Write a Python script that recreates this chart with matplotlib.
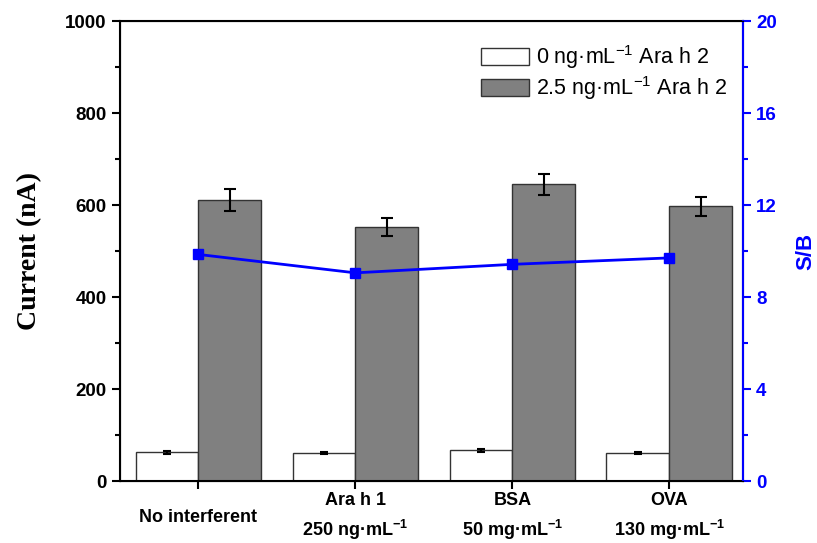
import matplotlib
matplotlib.use("Agg")
import matplotlib.pyplot as plt
from matplotlib.ticker import MultipleLocator
import numpy as np

categories = ["No interferent", "Ara h 1\n250 ng·mL$^{\\mathregular{-1}}$",
              "BSA\n50 mg·mL$^{\\mathregular{-1}}$", "OVA\n130 mg·mL$^{\\mathregular{-1}}$"]
blank_current = [62, 60, 67, 61]
blank_err = [3, 2, 3, 3]
sample_current = [610, 552, 645, 597]
sample_err = [24, 20, 23, 20]
signal_to_blank = [9.85, 9.05, 9.42, 9.70]
legend_labels = ["0 ng·mL$^{\\mathregular{-1}}$ Ara h 2", "2.5 ng·mL$^{\\mathregular{-1}}$ Ara h 2"]

plt.rcParams['font.family'] = ['Liberation Sans', 'DejaVu Sans']
plt.rcParams['mathtext.default'] = 'regular'

fig = plt.figure(figsize=(8.17, 5.43), dpi=100)
ax = fig.add_axes([120/817, 62/543, 623/817, 460/543])

x = np.arange(1, len(categories) + 1)
w = 0.4
ax.bar(x - w/2, blank_current, width=w, color='white', edgecolor='#333333', linewidth=1,
       yerr=blank_err, error_kw=dict(ecolor='black', elinewidth=1.5, capsize=3, capthick=1.5),
       label=legend_labels[0], zorder=2)
ax.bar(x + w/2, sample_current, width=w, color='#808080', edgecolor='#333333', linewidth=1,
       yerr=sample_err, error_kw=dict(ecolor='black', elinewidth=1.5, capsize=4, capthick=1.5),
       label=legend_labels[1], zorder=2)

ax.set_xlim(0.5, 4.47)
ax.set_ylim(0, 1000)
ax.yaxis.set_major_locator(MultipleLocator(200))
ax.yaxis.set_minor_locator(MultipleLocator(100))
ax.set_xticks(x)
ax.set_xticklabels(categories, fontweight='bold', fontsize=13, va='center', linespacing=1.45)
ax.tick_params(axis='x', direction='out', length=6, width=1.5, pad=20)
ax.tick_params(axis='y', which='major', direction='out', length=6, width=1.5, labelsize=13.5)
ax.tick_params(axis='y', which='minor', direction='out', length=3.5, width=1.5)
for lab in ax.get_yticklabels():
    lab.set_fontweight('bold')
ax.set_ylabel("Current (nA)", fontsize=20, fontweight='bold',
              fontfamily=['Liberation Serif', 'DejaVu Serif'], labelpad=17)
for sp in ax.spines.values():
    sp.set_linewidth(1.5)

ax2 = ax.twinx()
ax2.plot(x, signal_to_blank, color='#0000ff', marker='s', markersize=7, linewidth=2, zorder=3)
ax2.set_ylim(0, 20)
ax2.yaxis.set_major_locator(MultipleLocator(4))
ax2.yaxis.set_minor_locator(MultipleLocator(2))
ax2.tick_params(axis='y', which='major', direction='out', length=6, width=1.5,
                colors='#0000ff', labelsize=13.5)
ax2.tick_params(axis='y', which='minor', direction='out', length=3.5, width=1.5, colors='#0000ff')
for lab in ax2.get_yticklabels():
    lab.set_fontweight('bold')
ax2.spines['right'].set_color('#0000ff')
ax2.spines['right'].set_linewidth(1.5)
ax2.set_ylabel("S/B", fontsize=16, fontweight='bold', color='#0000ff', labelpad=13)

leg = ax.legend(loc='upper right', bbox_to_anchor=(0.998, 0.985), frameon=False, fontsize=15.5,
                handlelength=2.25, handleheight=0.8, handletextpad=0.3, labelspacing=0.15,
                borderaxespad=0.3)

fig.savefig("out.png", dpi=100)
